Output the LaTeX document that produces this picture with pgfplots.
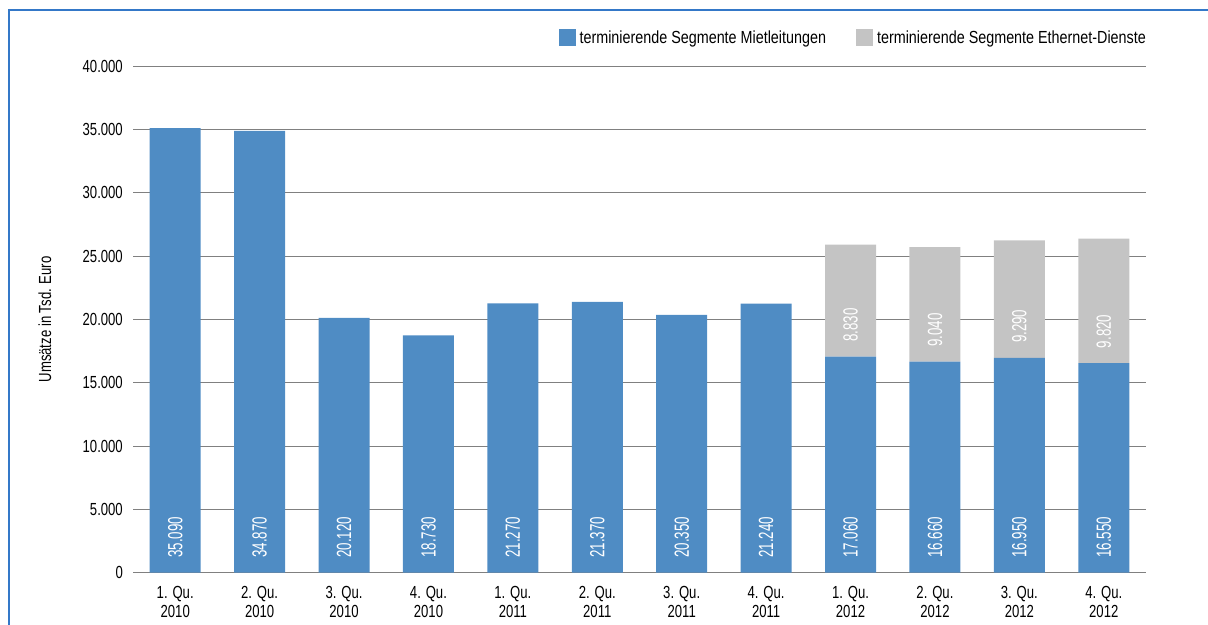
\documentclass[border=0pt]{standalone}
\usepackage{fontspec}
\setmainfont{Liberation Sans}[FakeStretch=0.75]
\newfontfamily\barfont{Liberation Sans}[FakeStretch=0.65]
\newfontfamily\legfont{Liberation Sans}[FakeStretch=0.82]
\usepackage{pgfplots}
\pgfplotsset{compat=1.18}
\definecolor{barblue}{RGB}{79,140,196}
\definecolor{bargrey}{RGB}{196,196,196}
\definecolor{frameblue}{RGB}{52,120,200}
\definecolor{gridgrey}{RGB}{128,128,128}
\newcommand{\mainfont}{\fontsize{17.5bp}{19.5bp}\selectfont}
\pgfplotsset{
 commonaxis/.style={
  scale only axis, width=1013bp, height=506.7bp,
  at={(133bp,52.3bp)}, anchor=south west,
  xmin=-0.5, xmax=11.5, ymin=0, ymax=40000,
 }
}
\begin{document}
\begin{tikzpicture}
\useasboundingbox (0,0) rectangle (1208bp,625bp);
\draw[frameblue, line width=2bp] (8bp,615bp) -- (1208bp,615bp);
\draw[frameblue, line width=2bp] (9bp,616bp) -- (9bp,0bp);
\begin{axis}[commonaxis,
  ybar stacked, bar width=51bp,
  axis line style={draw=none}, major tick length=0pt,
  ymajorgrids, grid style={gridgrey, line width=0.9bp},
  ytick={0,5000,...,40000},
  scaled y ticks=false,
  yticklabel style={/pgf/number format/.cd, 1000 sep={.}, assume math mode=true, /tikz/.cd, font=\mainfont, inner sep=0pt, xshift=-10bp},
  xtick={0,...,11},
  xticklabels={{1. Qu.\\2010},{2. Qu.\\2010},{3. Qu.\\2010},{4. Qu.\\2010},{1. Qu.\\2011},{2. Qu.\\2011},{3. Qu.\\2011},{4. Qu.\\2011},{1. Qu.\\2012},{2. Qu.\\2012},{3. Qu.\\2012},{4. Qu.\\2012}},
  xticklabel style={align=center, font=\mainfont, inner sep=0pt, yshift=-13bp},
  ylabel={Umsätze in Tsd. Euro},
  ylabel style={at={(axis description cs:-0.087,0.5)}, anchor=center, font=\mainfont},
  legend columns=2,
  legend style={draw=none, fill=none, at={(axis description cs:1.005,1.0553)}, anchor=east, font=\legfont\fontsize{17.5bp}{19.5bp}\selectfont, /tikz/every even column/.append style={column sep=28bp}},
  legend image code/.code={\fill[#1] (0bp,-8.5bp) rectangle (17bp,8.5bp); \path (19bp,0bp);},
]
\addplot[fill=barblue, draw=none] coordinates {
 (0,35090) (1,34870) (2,20120) (3,18730) (4,21270) (5,21370)
 (6,20350) (7,21240) (8,17060) (9,16660) (10,16950) (11,16550)};
\addlegendentry{terminierende Segmente Mietleitungen}
\addplot[fill=bargrey, draw=none] coordinates {
 (0,0) (1,0) (2,0) (3,0) (4,0) (5,0)
 (6,0) (7,0) (8,8830) (9,9040) (10,9290) (11,9820)};
\addlegendentry{terminierende Segmente Ethernet-Dienste}
\end{axis}
\begin{axis}[commonaxis, hide axis, clip=false]
\addplot[draw=none, nodes near coords, point meta=explicit symbolic,
  nodes near coords style={rotate=90, anchor=west, inner sep=0pt, outer xsep=15bp, text=white, font=\barfont\fontsize{20.5bp}{22bp}\selectfont}]
 coordinates {
 (0,0) [35.090] (1,0) [34.870] (2,0) [20.120] (3,0) [18.730]
 (4,0) [21.270] (5,0) [21.370] (6,0) [20.350] (7,0) [21.240]
 (8,0) [17.060] (9,0) [16.660] (10,0) [16.950] (11,0) [16.550]
 (8,17060) [8.830] (9,16660) [9.040] (10,16950) [9.290] (11,16550) [9.820]};
\end{axis}
\end{tikzpicture}
\end{document}
